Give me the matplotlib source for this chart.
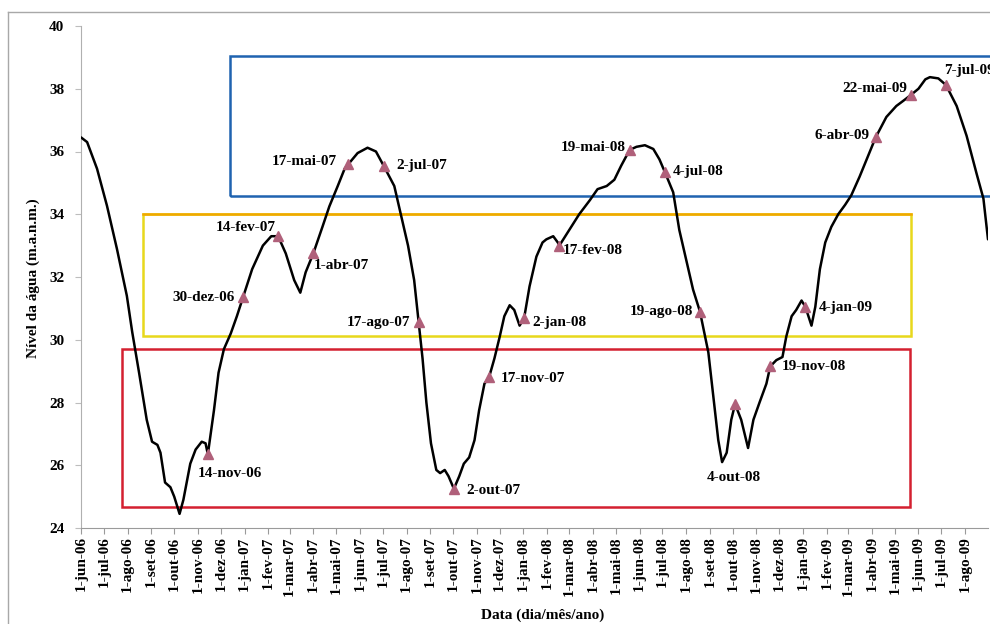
import pandas as pd
import matplotlib
matplotlib.use("Agg")
import matplotlib.pyplot as plt
import matplotlib.dates as mdates
from matplotlib.patches import Rectangle
from matplotlib.lines import Line2D

# Nível da água - série
datas = [
    "2006-06-01", "2006-06-09", "2006-06-22", "2006-07-05", "2006-07-18", "2006-07-31",
    "2006-08-07", "2006-08-16", "2006-08-26", "2006-09-02", "2006-09-09", "2006-09-13",
    "2006-09-19", "2006-09-26", "2006-10-01", "2006-10-08", "2006-10-13", "2006-10-22",
    "2006-10-29", "2006-11-06", "2006-11-11", "2006-11-14", "2006-11-22", "2006-11-28",
    "2006-12-05", "2006-12-14", "2006-12-22", "2006-12-30", "2007-01-11", "2007-01-25",
    "2007-02-05", "2007-02-14", "2007-02-24", "2007-03-07", "2007-03-15", "2007-03-22",
    "2007-04-01", "2007-04-13", "2007-04-22", "2007-05-03", "2007-05-12", "2007-05-17",
    "2007-05-29", "2007-06-11", "2007-06-22", "2007-07-02", "2007-07-16", "2007-07-25",
    "2007-08-03", "2007-08-11", "2007-08-17", "2007-08-22", "2007-08-27", "2007-09-02",
    "2007-09-09", "2007-09-14", "2007-09-20", "2007-09-25", "2007-10-02", "2007-10-09",
    "2007-10-15", "2007-10-22", "2007-10-29", "2007-11-04", "2007-11-11", "2007-11-17",
    "2007-11-24", "2007-12-01", "2007-12-07", "2007-12-14", "2007-12-20", "2007-12-27",
    "2008-01-02", "2008-01-09", "2008-01-18", "2008-01-26", "2008-01-31", "2008-02-09",
    "2008-02-15", "2008-02-17", "2008-03-01", "2008-03-14", "2008-03-28", "2008-04-07",
    "2008-04-19", "2008-04-29", "2008-05-08", "2008-05-19", "2008-05-28", "2008-06-08",
    "2008-06-19", "2008-06-27", "2008-07-04", "2008-07-15", "2008-07-23", "2008-08-01",
    "2008-08-10", "2008-08-19", "2008-08-25", "2008-08-30", "2008-09-05", "2008-09-12",
    "2008-09-17", "2008-09-23", "2008-09-29", "2008-10-04", "2008-10-12", "2008-10-21",
    "2008-10-28", "2008-11-05", "2008-11-14", "2008-11-19", "2008-11-27", "2008-12-05",
    "2008-12-10", "2008-12-17", "2008-12-23", "2008-12-30", "2009-01-04", "2009-01-12",
    "2009-01-17", "2009-01-23", "2009-01-30", "2009-02-07", "2009-02-16", "2009-02-25",
    "2009-03-05", "2009-03-16", "2009-03-27", "2009-04-06", "2009-04-20", "2009-05-03",
    "2009-05-14", "2009-05-22", "2009-06-01", "2009-06-10", "2009-06-16", "2009-06-27",
    "2009-07-07", "2009-07-21", "2009-08-03", "2009-08-16", "2009-08-25", "2009-08-31",
]
nivel = [
    36.45, 36.30, 35.45, 34.27, 32.90, 31.40,
    30.25, 28.95, 27.45, 26.75, 26.65, 26.40,
    25.45, 25.30, 25.00, 24.45, 24.90, 26.05,
    26.50, 26.75, 26.70, 26.35, 27.75, 28.95,
    29.70, 30.20, 30.75, 31.35, 32.25, 33.00,
    33.30, 33.30, 32.75, 31.90, 31.50, 32.15,
    32.75, 33.60, 34.25, 34.90, 35.45, 35.60,
    35.95, 36.12, 36.00, 35.55, 34.90, 33.95,
    33.00, 31.90, 30.55, 29.40, 28.00, 26.70,
    25.85, 25.75, 25.85, 25.65, 25.25, 25.65,
    26.05, 26.25, 26.80, 27.75, 28.60, 28.80,
    29.40, 30.10, 30.75, 31.10, 30.95, 30.45,
    30.70, 31.70, 32.65, 33.10, 33.20, 33.30,
    33.10, 33.00, 33.50, 34.00, 34.45, 34.80,
    34.90, 35.10, 35.55, 36.05, 36.15, 36.20,
    36.08, 35.75, 35.35, 34.70, 33.50, 32.55,
    31.60, 30.90, 30.20, 29.60, 28.30, 26.80,
    26.10, 26.40, 27.45, 27.95, 27.45, 26.55,
    27.45, 28.00, 28.60, 29.15, 29.35, 29.45,
    30.10, 30.75, 30.95, 31.25, 31.05, 30.45,
    31.05, 32.25, 33.10, 33.60, 34.00, 34.30,
    34.60, 35.20, 35.85, 36.45, 37.10, 37.45,
    37.65, 37.80, 38.00, 38.30, 38.37, 38.33,
    38.12, 37.45, 36.50, 35.30, 34.50, 33.20,
]

# Pontos marcados (triângulos)
marc_datas = [
    "2006-11-14", "2006-12-30", "2007-02-14", "2007-04-01", "2007-05-17",
    "2007-07-02", "2007-08-17", "2007-10-02", "2007-11-17", "2008-01-02",
    "2008-02-17", "2008-05-19", "2008-07-04", "2008-08-19", "2008-10-04",
    "2008-11-19", "2009-01-04", "2009-04-06", "2009-05-22", "2009-07-07",
]
marc_nivel = [
    26.35, 31.35, 33.30, 32.75, 35.60,
    35.55, 30.55, 25.25, 28.80, 30.70,
    33.00, 36.05, 35.35, 30.90, 27.95,
    29.15, 31.05, 36.45, 37.80, 38.12,
]
marc_rotulos = [
    "14-nov-06", "30-dez-06", "14-fev-07", "1-abr-07", "17-mai-07",
    "2-jul-07", "17-ago-07", "2-out-07", "17-nov-07", "2-jan-08",
    "17-fev-08", "19-mai-08", "4-jul-08", "19-ago-08", "4-out-08",
    "19-nov-08", "4-jan-09", "6-abr-09", "22-mai-09", "7-jul-09",
]
# deslocamento do rótulo (pixels) e alinhamento
rot_offsets = [
    (22, -19, "center"), (-8, 0, "right"), (-2, 9, "right"), (0, -12, "left"),
    (-12, 3, "right"), (13, 0, "left"), (-9, 0, "right"), (12, -2, "left"),
    (12, -1, "left"), (8, -5, "left"), (3, -5, "left"), (-4, 2, "right"),
    (8, 0, "left"), (-7, 0, "right"), (-1, -73, "center"), (12, 0, "left"),
    (13, -1, "left"), (-6, 2, "right"), (-4, 7, "right"), (-2, 14, "left"),
]

# Faixas (retângulos): início, fim, nível inferior, nível superior, cor
faixas = [
    ("2006-12-13", "2009-10-15", 34.58, 39.05, "#1f63b0"),
    ("2006-08-21", "2009-05-22", 30.12, 34.02, "#e8d81c"),
    ("2006-07-25", "2009-05-21", 24.66, 29.69, "#d42030"),
]

MESES = ["jan", "fev", "mar", "abr", "mai", "jun", "jul", "ago", "set", "out", "nov", "dez"]

plt.rcParams['font.family'] = ['Liberation Serif', 'DejaVu Serif']
plt.rcParams['font.weight'] = 'bold'
plt.rcParams['font.size'] = 11

fig = plt.figure(figsize=(9.9, 6.24), dpi=100)
ax = fig.add_axes([81 / 990, 1 - 528 / 624, 907 / 990, 502 / 624])

x = pd.to_datetime(datas)
ax.plot(x, nivel, color='black', lw=1.8, zorder=3,
        solid_joinstyle='round', solid_capstyle='round')

for ini, fim, y0, y1, cor in faixas:
    x0 = mdates.date2num(pd.Timestamp(ini))
    x1 = mdates.date2num(pd.Timestamp(fim))
    ax.add_patch(Rectangle((x0, y0), x1 - x0, y1 - y0, fill=False,
                           edgecolor=cor, lw=1.8, zorder=2, clip_on=False))
    if cor == "#e8d81c":
        # borda superior laranja
        ax.plot([x0, x1], [y1, y1], color="#f0a800", lw=1.8, zorder=2)

mx = pd.to_datetime(marc_datas)
ax.plot(mx, marc_nivel, linestyle='none', marker='^', markersize=7,
        color='#b0607a', zorder=4)

for d, v, txt, (dx, dy, ha) in zip(mx, marc_nivel, marc_rotulos, rot_offsets):
    ax.annotate(txt, (d, v), xytext=(dx, dy), textcoords='offset pixels',
                ha=ha, va='center', fontsize=11, fontweight='bold', zorder=5)

ax.set_ylim(24, 40)
ax.set_yticks(range(24, 41, 2))
ax.set_xlim(pd.Timestamp("2006-06-01"), pd.Timestamp("2009-08-31"))
ax.xaxis.set_major_locator(mdates.MonthLocator(bymonthday=1))


def fmt_data(val, pos=None):
    d = mdates.num2date(val)
    return f"{d.day}-{MESES[d.month - 1]}-{d.year % 100:02d}"


ax.xaxis.set_major_formatter(plt.FuncFormatter(fmt_data))
for lab in ax.get_xticklabels():
    lab.set_rotation(90)

ax.tick_params(axis='x', length=4, width=0.8, color='#9a9a9a', pad=2, labelsize=11)
ax.tick_params(axis='y', length=4, width=0.8, color='#bdbdbd', pad=8, labelsize=11)
ax.spines['top'].set_visible(False)
ax.spines['right'].set_visible(False)
ax.spines['left'].set_color('#b0b0b0')
ax.spines['bottom'].set_color('#9a9a9a')

fig.text(33 / 990, 1 - 278 / 624, "Nível da água (m.a.n.m.)", rotation=90,
         ha='center', va='center', fontsize=11, fontweight='bold')
fig.text(543 / 990, 1 - 615 / 624, "Data (dia/mês/ano)",
         ha='center', va='center', fontsize=11, fontweight='bold')

# moldura da área do gráfico
fig.add_artist(Line2D([8 / 990, 1.0], [1 - 12 / 624, 1 - 12 / 624],
                      transform=fig.transFigure, color='#a8a8a8', lw=1))
fig.add_artist(Line2D([8 / 990, 8 / 990], [0, 1 - 12 / 624],
                      transform=fig.transFigure, color='#a8a8a8', lw=1))

fig.savefig("out.png", dpi=100)
